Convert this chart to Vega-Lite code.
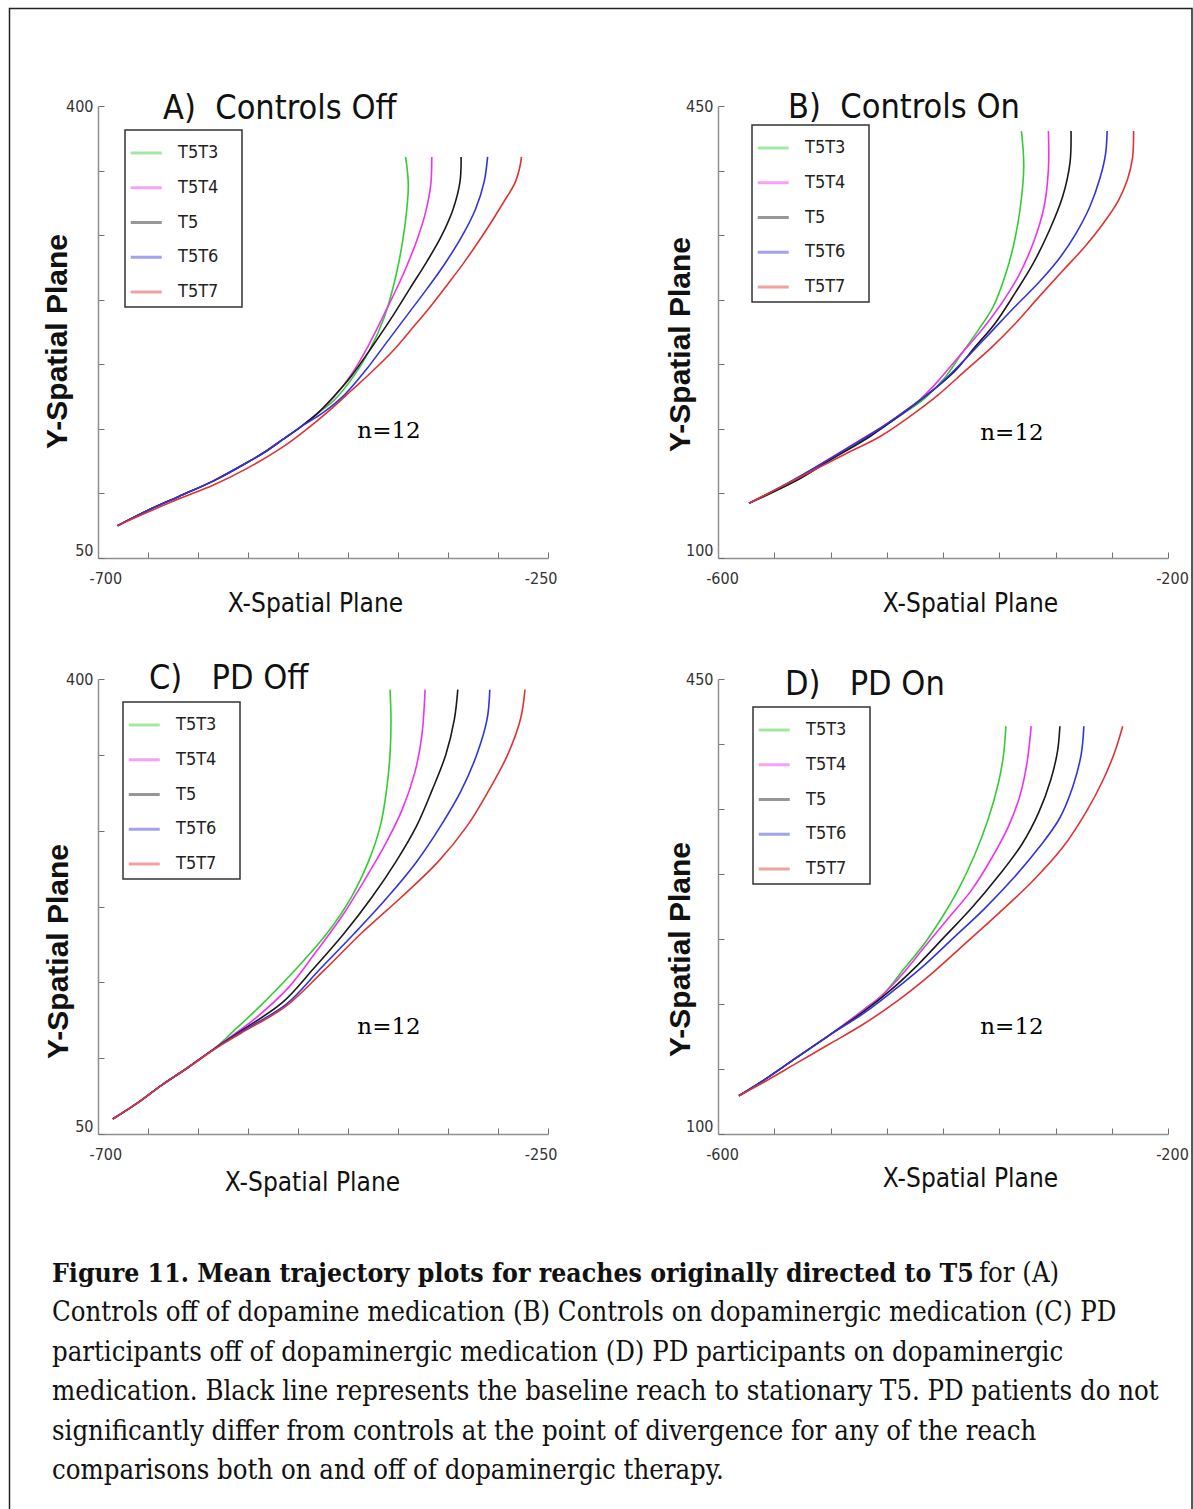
{
  "$schema": "https://vega.github.io/schema/vega-lite/v6.json",
  "usermeta": {"embedOptions": {"actions": false}},
  "background": "white",
  "padding": {"left": 8, "top": 7, "right": 0, "bottom": 0},
  "bounds": "flush",
  "columns": 2,
  "spacing": {"row": 121, "column": 170},
  "resolve": {
    "scale": {"x": "independent", "y": "independent", "color": "independent"},
    "axis": {"x": "independent", "y": "independent"},
    "legend": {"color": "independent"}
  },
  "datasets": {
    "A": [
      {"t":"T5T3","x":-680.4,"y":75},{"t":"T5T3","x":-653.5,"y":85.7},{"t":"T5T3","x":-619,"y":97.7},{"t":"T5T3","x":-584.5,"y":109.7},{"t":"T5T3","x":-550,"y":124.3},{"t":"T5T3","x":-532.8,"y":132.3},{"t":"T5T3","x":-515.5,"y":141.6},{"t":"T5T3","x":-498.3,"y":151},{"t":"T5T3","x":-481.1,"y":161.6},{"t":"T5T3","x":-463.8,"y":172.3},{"t":"T5T3","x":-446.6,"y":188.3},{"t":"T5T3","x":-429.3,"y":209.6},{"t":"T5T3","x":-413.8,"y":236.2},{"t":"T5T3","x":-401.8,"y":269.5},{"t":"T5T3","x":-393.2,"y":306.8},{"t":"T5T3","x":-389.7,"y":338.7},{"t":"T5T3","x":-392.4,"y":360.6},
      {"t":"T5T4","x":-680.4,"y":75},{"t":"T5T4","x":-653.5,"y":85.7},{"t":"T5T4","x":-619,"y":97.7},{"t":"T5T4","x":-584.5,"y":109.7},{"t":"T5T4","x":-550,"y":124.3},{"t":"T5T4","x":-532.8,"y":132.3},{"t":"T5T4","x":-515.5,"y":141.6},{"t":"T5T4","x":-498.3,"y":151},{"t":"T5T4","x":-481.1,"y":161.6},{"t":"T5T4","x":-463.8,"y":174.9},{"t":"T5T4","x":-446.6,"y":192.2},{"t":"T5T4","x":-429.3,"y":214.9},{"t":"T5T4","x":-412.1,"y":241.5},{"t":"T5T4","x":-394.9,"y":269.5},{"t":"T5T4","x":-381.1,"y":296.1},{"t":"T5T4","x":-372.5,"y":317.4},{"t":"T5T4","x":-367.3,"y":338.7},{"t":"T5T4","x":-366.2,"y":360.6},
      {"t":"T5","x":-680.4,"y":75},{"t":"T5","x":-653.5,"y":85.7},{"t":"T5","x":-619,"y":97.7},{"t":"T5","x":-584.5,"y":109.7},{"t":"T5","x":-550,"y":124.3},{"t":"T5","x":-532.8,"y":132.3},{"t":"T5","x":-515.5,"y":141.6},{"t":"T5","x":-498.3,"y":151},{"t":"T5","x":-481.1,"y":161.6},{"t":"T5","x":-463.8,"y":175.5},{"t":"T5","x":-446.6,"y":191},{"t":"T5","x":-425.9,"y":213.6},{"t":"T5","x":-405.2,"y":237.5},{"t":"T5","x":-388,"y":258.8},{"t":"T5","x":-370.7,"y":280.1},{"t":"T5","x":-356.9,"y":298.8},{"t":"T5","x":-344.9,"y":320.1},{"t":"T5","x":-338,"y":341.4},{"t":"T5","x":-336.9,"y":360.6},
      {"t":"T5T6","x":-680.4,"y":75},{"t":"T5T6","x":-653.5,"y":85.7},{"t":"T5T6","x":-619,"y":97.7},{"t":"T5T6","x":-584.5,"y":109.7},{"t":"T5T6","x":-550,"y":124.3},{"t":"T5T6","x":-532.8,"y":132.3},{"t":"T5T6","x":-515.5,"y":141.6},{"t":"T5T6","x":-498.3,"y":151},{"t":"T5T6","x":-474.2,"y":162.9},{"t":"T5T6","x":-453.5,"y":176.3},{"t":"T5T6","x":-432.8,"y":194.9},{"t":"T5T6","x":-412.1,"y":216.2},{"t":"T5T6","x":-391.4,"y":237.5},{"t":"T5T6","x":-370.7,"y":258.8},{"t":"T5T6","x":-353.5,"y":277.5},{"t":"T5T6","x":-336.3,"y":298.8},{"t":"T5T6","x":-322.5,"y":320.1},{"t":"T5T6","x":-313.8,"y":341.4},{"t":"T5T6","x":-310.4,"y":360.6},
      {"t":"T5T7","x":-680.4,"y":75},{"t":"T5T7","x":-653.5,"y":84.4},{"t":"T5T7","x":-619,"y":95.8},{"t":"T5T7","x":-584.5,"y":106.5},{"t":"T5T7","x":-550,"y":119.8},{"t":"T5T7","x":-515.5,"y":135.8},{"t":"T5T7","x":-488,"y":151.8},{"t":"T5T7","x":-467.3,"y":165.1},{"t":"T5T7","x":-446.6,"y":179.7},{"t":"T5T7","x":-425.9,"y":194.4},{"t":"T5T7","x":-405.2,"y":210.3},{"t":"T5T7","x":-384.5,"y":229},{"t":"T5T7","x":-367.3,"y":245},{"t":"T5T7","x":-350,"y":262.3},{"t":"T5T7","x":-332.8,"y":280.1},{"t":"T5T7","x":-312.1,"y":303.6},{"t":"T5T7","x":-294.9,"y":324.9},{"t":"T5T7","x":-282.8,"y":340.9},{"t":"T5T7","x":-277.6,"y":354.7},{"t":"T5T7","x":-276.6,"y":360.6}
    ],
    "B": [
      {"t":"T5T3","x":-572.4,"y":142.4},{"t":"T5T3","x":-530.9,"y":159.7},{"t":"T5T3","x":-500.9,"y":175.6},{"t":"T5T3","x":-470.9,"y":191.5},{"t":"T5T3","x":-440.8,"y":208.7},{"t":"T5T3","x":-416.8,"y":223.3},{"t":"T5T3","x":-398.8,"y":239.2},{"t":"T5T3","x":-383.8,"y":257.8},{"t":"T5T3","x":-368.8,"y":276.3},{"t":"T5T3","x":-355.2,"y":294.9},{"t":"T5T3","x":-344.7,"y":318.7},{"t":"T5T3","x":-337.2,"y":342.6},{"t":"T5T3","x":-331.2,"y":371.8},{"t":"T5T3","x":-328.2,"y":403.6},{"t":"T5T3","x":-330.3,"y":430.6},
      {"t":"T5T4","x":-572.4,"y":142.4},{"t":"T5T4","x":-530.9,"y":161},{"t":"T5T4","x":-500.9,"y":176.9},{"t":"T5T4","x":-470.9,"y":192.8},{"t":"T5T4","x":-440.8,"y":208.7},{"t":"T5T4","x":-422.8,"y":220.7},{"t":"T5T4","x":-404.8,"y":236.6},{"t":"T5T4","x":-386.8,"y":255.1},{"t":"T5T4","x":-365.8,"y":276.3},{"t":"T5T4","x":-347.7,"y":297.5},{"t":"T5T4","x":-332.7,"y":318.7},{"t":"T5T4","x":-319.2,"y":345.3},{"t":"T5T4","x":-310.2,"y":371.8},{"t":"T5T4","x":-306.3,"y":400.9},{"t":"T5T4","x":-306.3,"y":430.6},
      {"t":"T5","x":-572.4,"y":142.4},{"t":"T5","x":-530.9,"y":159.7},{"t":"T5","x":-500.9,"y":175.6},{"t":"T5","x":-464.9,"y":194.1},{"t":"T5","x":-434.8,"y":212.7},{"t":"T5","x":-410.8,"y":228.6},{"t":"T5","x":-389.8,"y":244.5},{"t":"T5","x":-371.8,"y":263.1},{"t":"T5","x":-353.8,"y":281.6},{"t":"T5","x":-335.7,"y":305.5},{"t":"T5","x":-320.7,"y":326.7},{"t":"T5","x":-305.7,"y":353.2},{"t":"T5","x":-293.7,"y":379.7},{"t":"T5","x":-287.1,"y":406.2},{"t":"T5","x":-286.2,"y":430.6},
      {"t":"T5T6","x":-572.4,"y":142.4},{"t":"T5T6","x":-545.9,"y":154.3},{"t":"T5T6","x":-515.9,"y":169},{"t":"T5T6","x":-485.9,"y":184.5},{"t":"T5T6","x":-455.9,"y":200.5},{"t":"T5T6","x":-428.8,"y":217},{"t":"T5T6","x":-404.8,"y":233},{"t":"T5T6","x":-380.8,"y":253.5},{"t":"T5T6","x":-356.8,"y":275.5},{"t":"T5T6","x":-335.7,"y":294.9},{"t":"T5T6","x":-314.7,"y":313.5},{"t":"T5T6","x":-297,"y":331.5},{"t":"T5T6","x":-282,"y":351},{"t":"T5T6","x":-269.5,"y":372},{"t":"T5T6","x":-260.5,"y":394},{"t":"T5T6","x":-255.5,"y":413},{"t":"T5T6","x":-254.1,"y":430.6},
      {"t":"T5T7","x":-572.4,"y":142.4},{"t":"T5T7","x":-545.9,"y":154.3},{"t":"T5T7","x":-515.9,"y":167.6},{"t":"T5T7","x":-485.9,"y":180.9},{"t":"T5T7","x":-455.9,"y":194.1},{"t":"T5T7","x":-428.8,"y":210},{"t":"T5T7","x":-404.8,"y":225.9},{"t":"T5T7","x":-380.8,"y":244.5},{"t":"T5T7","x":-356.8,"y":263.1},{"t":"T5T7","x":-335.7,"y":281.6},{"t":"T5T7","x":-314.7,"y":302.2},{"t":"T5T7","x":-294,"y":322},{"t":"T5T7","x":-274,"y":341},{"t":"T5T7","x":-257.6,"y":359},{"t":"T5T7","x":-244,"y":377},{"t":"T5T7","x":-236,"y":393},{"t":"T5T7","x":-231.5,"y":410},{"t":"T5T7","x":-230.6,"y":430.6}
    ],
    "C": [
      {"t":"T5T3","x":-685.2,"y":61.5},{"t":"T5T3","x":-660.4,"y":73.9},{"t":"T5T3","x":-636.3,"y":87.6},{"t":"T5T3","x":-612.2,"y":100},{"t":"T5T3","x":-584.6,"y":115.1},{"t":"T5T3","x":-564,"y":129.5},{"t":"T5T3","x":-536.4,"y":149.5},{"t":"T5T3","x":-502,"y":176.9},{"t":"T5T3","x":-471,"y":204.4},{"t":"T5T3","x":-446.9,"y":231.9},{"t":"T5T3","x":-429.7,"y":259.3},{"t":"T5T3","x":-417.7,"y":286.8},{"t":"T5T3","x":-411.5,"y":314.3},{"t":"T5T3","x":-408,"y":341.8},{"t":"T5T3","x":-407,"y":369.2},{"t":"T5T3","x":-408,"y":391.8},
      {"t":"T5T4","x":-685.2,"y":61.5},{"t":"T5T4","x":-660.4,"y":73.9},{"t":"T5T4","x":-636.3,"y":87.6},{"t":"T5T4","x":-612.2,"y":100},{"t":"T5T4","x":-584.6,"y":115.1},{"t":"T5T4","x":-560.6,"y":128.5},{"t":"T5T4","x":-543.3,"y":138.5},{"t":"T5T4","x":-508.9,"y":163.2},{"t":"T5T4","x":-481.4,"y":190.7},{"t":"T5T4","x":-455.5,"y":218.1},{"t":"T5T4","x":-433.2,"y":245.6},{"t":"T5T4","x":-412.5,"y":273.1},{"t":"T5T4","x":-395.3,"y":300.5},{"t":"T5T4","x":-383.2,"y":328},{"t":"T5T4","x":-376.3,"y":355.5},{"t":"T5T4","x":-372.9,"y":391.8},
      {"t":"T5","x":-685.2,"y":61.5},{"t":"T5","x":-660.4,"y":73.9},{"t":"T5","x":-636.3,"y":87.6},{"t":"T5","x":-612.2,"y":100},{"t":"T5","x":-584.6,"y":115.1},{"t":"T5","x":-557.1,"y":129.3},{"t":"T5","x":-515.8,"y":151},{"t":"T5","x":-484.8,"y":176.9},{"t":"T5","x":-453.8,"y":204.4},{"t":"T5","x":-426.3,"y":231.9},{"t":"T5","x":-402.2,"y":259.3},{"t":"T5","x":-381.5,"y":286.8},{"t":"T5","x":-366,"y":314.3},{"t":"T5","x":-352.2,"y":341.8},{"t":"T5","x":-343.6,"y":369.2},{"t":"T5","x":-340.2,"y":391.8},
      {"t":"T5T6","x":-685.2,"y":61.5},{"t":"T5T6","x":-660.4,"y":73.9},{"t":"T5T6","x":-636.3,"y":87.6},{"t":"T5T6","x":-612.2,"y":100},{"t":"T5T6","x":-584.6,"y":115.1},{"t":"T5T6","x":-557.1,"y":128.5},{"t":"T5T6","x":-512.3,"y":149.5},{"t":"T5T6","x":-477.9,"y":176.9},{"t":"T5T6","x":-443.5,"y":204.4},{"t":"T5T6","x":-410.8,"y":231.9},{"t":"T5T6","x":-381.5,"y":259.3},{"t":"T5T6","x":-357.4,"y":286.8},{"t":"T5T6","x":-336.7,"y":314.3},{"t":"T5T6","x":-321.3,"y":341.8},{"t":"T5T6","x":-310.9,"y":369.2},{"t":"T5T6","x":-308.2,"y":391.8},
      {"t":"T5T7","x":-685.2,"y":61.5},{"t":"T5T7","x":-660.4,"y":73.9},{"t":"T5T7","x":-636.3,"y":87.6},{"t":"T5T7","x":-612.2,"y":100},{"t":"T5T7","x":-584.6,"y":114.6},{"t":"T5T7","x":-557.1,"y":127.5},{"t":"T5T7","x":-512.3,"y":148.1},{"t":"T5T7","x":-474.5,"y":175.5},{"t":"T5T7","x":-436.6,"y":204.4},{"t":"T5T7","x":-397,"y":231.9},{"t":"T5T7","x":-360,"y":259.3},{"t":"T5T7","x":-331,"y":286.8},{"t":"T5T7","x":-309.2,"y":314.3},{"t":"T5T7","x":-290.3,"y":341.8},{"t":"T5T7","x":-277.5,"y":369.2},{"t":"T5T7","x":-273,"y":391.8}
    ],
    "D": [
      {"t":"T5T3","x":-581.4,"y":129.4},{"t":"T5T3","x":-561,"y":140.4},{"t":"T5T3","x":-530.9,"y":158.3},{"t":"T5T3","x":-500.9,"y":176.1},{"t":"T5T3","x":-470.9,"y":195.3},{"t":"T5T3","x":-452.9,"y":207.7},{"t":"T5T3","x":-434.8,"y":226.9},{"t":"T5T3","x":-416.8,"y":246.1},{"t":"T5T3","x":-401.8,"y":265.4},{"t":"T5T3","x":-386.8,"y":287.4},{"t":"T5T3","x":-371.8,"y":314.8},{"t":"T5T3","x":-359.8,"y":342.3},{"t":"T5T3","x":-350.8,"y":369.8},{"t":"T5T3","x":-346.2,"y":391.8},{"t":"T5T3","x":-344.1,"y":413.7},
      {"t":"T5T4","x":-581.4,"y":129.4},{"t":"T5T4","x":-561,"y":140.4},{"t":"T5T4","x":-530.9,"y":158.3},{"t":"T5T4","x":-500.9,"y":176.1},{"t":"T5T4","x":-470.9,"y":195.3},{"t":"T5T4","x":-452.9,"y":207.7},{"t":"T5T4","x":-434.8,"y":224.2},{"t":"T5T4","x":-416.8,"y":243.4},{"t":"T5T4","x":-395.8,"y":265.4},{"t":"T5T4","x":-374.8,"y":287.4},{"t":"T5T4","x":-356.8,"y":312.1},{"t":"T5T4","x":-341.7,"y":336.8},{"t":"T5T4","x":-331.2,"y":361.5},{"t":"T5T4","x":-325.2,"y":386.3},{"t":"T5T4","x":-321.6,"y":413.7},
      {"t":"T5","x":-581.4,"y":129.4},{"t":"T5","x":-561,"y":140.4},{"t":"T5","x":-530.9,"y":158.3},{"t":"T5","x":-500.9,"y":176.1},{"t":"T5","x":-470.9,"y":193.9},{"t":"T5","x":-446.8,"y":210.4},{"t":"T5","x":-422.8,"y":229.7},{"t":"T5","x":-398.8,"y":251.6},{"t":"T5","x":-374.8,"y":273.6},{"t":"T5","x":-350.8,"y":298.4},{"t":"T5","x":-329.7,"y":323.1},{"t":"T5","x":-314.7,"y":347.8},{"t":"T5","x":-304.2,"y":372.5},{"t":"T5","x":-298.2,"y":394.5},{"t":"T5","x":-296.1,"y":413.7},
      {"t":"T5T6","x":-581.4,"y":129.4},{"t":"T5T6","x":-561,"y":140.4},{"t":"T5T6","x":-530.9,"y":158.3},{"t":"T5T6","x":-500.9,"y":176.1},{"t":"T5T6","x":-470.9,"y":192.6},{"t":"T5T6","x":-443.8,"y":210.4},{"t":"T5T6","x":-416.8,"y":229.7},{"t":"T5T6","x":-389.8,"y":251.6},{"t":"T5T6","x":-362.8,"y":273.6},{"t":"T5T6","x":-335.7,"y":298.4},{"t":"T5T6","x":-314.7,"y":320.3},{"t":"T5T6","x":-296.7,"y":342.3},{"t":"T5T6","x":-284.7,"y":367},{"t":"T5T6","x":-277.2,"y":391.8},{"t":"T5T6","x":-274.8,"y":413.7},
      {"t":"T5T7","x":-581.4,"y":129.4},{"t":"T5T7","x":-561,"y":139},{"t":"T5T7","x":-530.9,"y":154.1},{"t":"T5T7","x":-500.9,"y":169.2},{"t":"T5T7","x":-470.9,"y":184.4},{"t":"T5T7","x":-440.8,"y":202.2},{"t":"T5T7","x":-410.8,"y":222.8},{"t":"T5T7","x":-380.8,"y":246.1},{"t":"T5T7","x":-350.8,"y":269.5},{"t":"T5T7","x":-320.7,"y":294.2},{"t":"T5T7","x":-293.7,"y":320.3},{"t":"T5T7","x":-272.7,"y":347.8},{"t":"T5T7","x":-257.6,"y":372.5},{"t":"T5T7","x":-247.1,"y":394.5},{"t":"T5T7","x":-240.3,"y":413.7}
    ]
  },
  "concat": [
    {
      "width": 450, "height": 452,
      "title": {"text": "A)\u00a0\u00a0Controls Off", "anchor": "start", "frame": "group", "dx": 65, "dy": 55, "offset": 0, "baseline": "alphabetic", "font": "DejaVu Sans Condensed, sans-serif", "fontSize": 34, "fontWeight": "normal", "color": "#111111"},
      "layer": [
        {
          "data": {"name": "A"},
          "mark": {"type": "line", "interpolate": "catmull-rom", "strokeWidth": 1.6},
          "encoding": {
            "x": {"field": "x", "type": "quantitative", "scale": {"domain": [-700, -250], "nice": false, "zero": false},
                  "axis": {"values": [-700,-650,-600,-550,-500,-450,-400,-350,-300,-250], "labelExpr": "datum.value == -700 ? '-700' : datum.value == -250 ? '-250' : ''", "labelFlush": true, "labelFlushOffset": 9, "labelPadding": 18, "title": "X-Spatial Plane", "titleFont": "DejaVu Sans Condensed, sans-serif", "titleFontSize": 26, "titleFontWeight": "normal", "titleX": 217, "titleY": 45, "titleBaseline": "middle"}},
            "y": {"field": "y", "type": "quantitative", "scale": {"domain": [50, 400], "nice": false, "zero": false},
                  "axis": {"values": [50,100,150,200,250,300,350,400], "labelExpr": "datum.value == 400 ? '400' : datum.value == 50 ? '50' : ''", "labelBaseline": {"condition": {"test": "datum.value == 50", "value": "bottom"}, "value": "middle"}, "labelPadding": 11, "title": "Y-Spatial Plane", "titleFont": "Liberation Sans", "titleFontSize": 30, "titleFontWeight": "bold", "titleX": -41, "titleY": 235, "titleBaseline": "middle"}},
            "color": {"field": "t", "type": "nominal", "scale": {"domain": ["T5T3","T5T4","T5","T5T6","T5T7"], "range": ["#33cc33","#ee33ee","#1a1a1a","#3333dd","#dd3333"]}, "legend": {"legendX": 27, "legendY": 24, "labelExpr": "datum.label + '\u00a0\u2800'"}},
            "order": {"field": "y", "type": "quantitative"}
          }
        },
        {
          "data": {"values": [{"x": -409, "y": 148, "label": "n=12"}]},
          "mark": {"type": "text", "font": "DejaVu Serif", "fontSize": 23, "color": "#000000", "baseline": "middle", "align": "center"},
          "encoding": {"x": {"field": "x", "type": "quantitative"}, "y": {"field": "y", "type": "quantitative"}, "text": {"field": "label"}}
        }
      ]
    },
    {
      "width": 450, "height": 452,
      "title": {"text": "B)\u00a0\u00a0Controls On", "anchor": "start", "frame": "group", "dx": 70, "dy": 54, "offset": 0, "baseline": "alphabetic", "font": "DejaVu Sans Condensed, sans-serif", "fontSize": 34, "fontWeight": "normal", "color": "#111111"},
      "layer": [
        {
          "data": {"name": "B"},
          "mark": {"type": "line", "interpolate": "catmull-rom", "strokeWidth": 1.6},
          "encoding": {
            "x": {"field": "x", "type": "quantitative", "scale": {"domain": [-600, -200], "nice": false, "zero": false},
                  "axis": {"values": [-600,-550,-500,-450,-400,-350,-300,-250,-200], "labelExpr": "datum.value == -600 ? '-600' : datum.value == -200 ? '-200' : ''", "labelFlush": false, "labelOffset": 4, "labelPadding": 18, "title": "X-Spatial Plane", "titleFont": "DejaVu Sans Condensed, sans-serif", "titleFontSize": 26, "titleFontWeight": "normal", "titleX": 252, "titleY": 45, "titleBaseline": "middle"}},
            "y": {"field": "y", "type": "quantitative", "scale": {"domain": [100, 450], "nice": false, "zero": false},
                  "axis": {"values": [100,150,200,250,300,350,400,450], "labelExpr": "datum.value == 450 ? '450' : datum.value == 100 ? '100' : ''", "labelBaseline": {"condition": {"test": "datum.value == 100", "value": "bottom"}, "value": "middle"}, "labelPadding": 11, "title": "Y-Spatial Plane", "titleFont": "Liberation Sans", "titleFontSize": 30, "titleFontWeight": "bold", "titleX": -38, "titleY": 238, "titleBaseline": "middle"}},
            "color": {"field": "t", "type": "nominal", "scale": {"domain": ["T5T3","T5T4","T5","T5T6","T5T7"], "range": ["#33cc33","#ee33ee","#1a1a1a","#3333dd","#dd3333"]}, "legend": {"legendX": 34, "legendY": 19, "labelExpr": "datum.label + '\u00a0\u2800'"}},
            "order": {"field": "y", "type": "quantitative"}
          }
        },
        {
          "data": {"values": [{"x": -338.7, "y": 197, "label": "n=12"}]},
          "mark": {"type": "text", "font": "DejaVu Serif", "fontSize": 23, "color": "#000000", "baseline": "middle", "align": "center"},
          "encoding": {"x": {"field": "x", "type": "quantitative"}, "y": {"field": "y", "type": "quantitative"}, "text": {"field": "label"}}
        }
      ]
    },
    {
      "width": 450, "height": 455,
      "title": {"text": "C)\u00a0\u00a0\u00a0PD Off", "anchor": "start", "frame": "group", "dx": 51, "dy": 52, "offset": 0, "baseline": "alphabetic", "font": "DejaVu Sans Condensed, sans-serif", "fontSize": 34, "fontWeight": "normal", "color": "#111111"},
      "layer": [
        {
          "data": {"name": "C"},
          "mark": {"type": "line", "interpolate": "catmull-rom", "strokeWidth": 1.6},
          "encoding": {
            "x": {"field": "x", "type": "quantitative", "scale": {"domain": [-700, -250], "nice": false, "zero": false},
                  "axis": {"values": [-700,-650,-600,-550,-500,-450,-400,-350,-300,-250], "labelExpr": "datum.value == -700 ? '-700' : datum.value == -250 ? '-250' : ''", "labelFlush": true, "labelFlushOffset": 9, "labelPadding": 18, "title": "X-Spatial Plane", "titleFont": "DejaVu Sans Condensed, sans-serif", "titleFontSize": 26, "titleFontWeight": "normal", "titleX": 214, "titleY": 48, "titleBaseline": "middle"}},
            "y": {"field": "y", "type": "quantitative", "scale": {"domain": [50, 400], "nice": false, "zero": false},
                  "axis": {"values": [50,108.33,166.67,225,283.33,341.67,400], "labelExpr": "datum.value == 400 ? '400' : datum.value == 50 ? '50' : ''", "labelBaseline": {"condition": {"test": "datum.value == 50", "value": "bottom"}, "value": "middle"}, "labelPadding": 11, "title": "Y-Spatial Plane", "titleFont": "Liberation Sans", "titleFontSize": 30, "titleFontWeight": "bold", "titleX": -40, "titleY": 272, "titleBaseline": "middle"}},
            "color": {"field": "t", "type": "nominal", "scale": {"domain": ["T5T3","T5T4","T5","T5T6","T5T7"], "range": ["#33cc33","#ee33ee","#1a1a1a","#3333dd","#dd3333"]}, "legend": {"legendX": 25, "legendY": 23, "labelExpr": "datum.label + '\u00a0\u2800'"}},
            "order": {"field": "y", "type": "quantitative"}
          }
        },
        {
          "data": {"values": [{"x": -409, "y": 132.5, "label": "n=12"}]},
          "mark": {"type": "text", "font": "DejaVu Serif", "fontSize": 23, "color": "#000000", "baseline": "middle", "align": "center"},
          "encoding": {"x": {"field": "x", "type": "quantitative"}, "y": {"field": "y", "type": "quantitative"}, "text": {"field": "label"}}
        }
      ]
    },
    {
      "width": 450, "height": 455,
      "title": {"text": "D)\u00a0\u00a0\u00a0PD On", "anchor": "start", "frame": "group", "dx": 67, "dy": 58, "offset": 0, "baseline": "alphabetic", "font": "DejaVu Sans Condensed, sans-serif", "fontSize": 34, "fontWeight": "normal", "color": "#111111"},
      "layer": [
        {
          "data": {"name": "D"},
          "mark": {"type": "line", "interpolate": "catmull-rom", "strokeWidth": 1.6},
          "encoding": {
            "x": {"field": "x", "type": "quantitative", "scale": {"domain": [-600, -200], "nice": false, "zero": false},
                  "axis": {"values": [-600,-550,-500,-450,-400,-350,-300,-250,-200], "labelExpr": "datum.value == -600 ? '-600' : datum.value == -200 ? '-200' : ''", "labelFlush": false, "labelOffset": 4, "labelPadding": 18, "title": "X-Spatial Plane", "titleFont": "DejaVu Sans Condensed, sans-serif", "titleFontSize": 26, "titleFontWeight": "normal", "titleX": 252, "titleY": 44, "titleBaseline": "middle"}},
            "y": {"field": "y", "type": "quantitative", "scale": {"domain": [100, 450], "nice": false, "zero": false},
                  "axis": {"values": [100,150,200,250,300,350,400,450], "labelExpr": "datum.value == 450 ? '450' : datum.value == 100 ? '100' : ''", "labelBaseline": {"condition": {"test": "datum.value == 100", "value": "bottom"}, "value": "middle"}, "labelPadding": 11, "title": "Y-Spatial Plane", "titleFont": "Liberation Sans", "titleFontSize": 30, "titleFontWeight": "bold", "titleX": -38, "titleY": 270, "titleBaseline": "middle"}},
            "color": {"field": "t", "type": "nominal", "scale": {"domain": ["T5T3","T5T4","T5","T5T6","T5T7"], "range": ["#33cc33","#ee33ee","#1a1a1a","#3333dd","#dd3333"]}, "legend": {"legendX": 35, "legendY": 28, "labelExpr": "datum.label + '\u00a0\u2800'"}},
            "order": {"field": "y", "type": "quantitative"}
          }
        },
        {
          "data": {"values": [{"x": -338.7, "y": 182.5, "label": "n=12"}]},
          "mark": {"type": "text", "font": "DejaVu Serif", "fontSize": 23, "color": "#000000", "baseline": "middle", "align": "center"},
          "encoding": {"x": {"field": "x", "type": "quantitative"}, "y": {"field": "y", "type": "quantitative"}, "text": {"field": "label"}}
        }
      ]
    },
    {
      "width": 450, "height": 197,
      "layer": [
        {
          "data": {"values": [{}]},
          "mark": {"type": "rect", "filled": false, "stroke": "#222222", "strokeWidth": 1.5},
          "encoding": {"x": {"value": -88.5}, "x2": {"value": 1094}, "y": {"value": -1246.5}, "y2": {"value": 262}}
        },
        {
          "data": {"values": [{"line": 0, "text": "Figure 11. Mean trajectory plots for reaches originally directed to T5"}]},
          "mark": {"type": "text", "align": "left", "baseline": "alphabetic", "dy": 27, "font": "DejaVu Serif Condensed, Liberation Serif, serif", "fontSize": 26.4, "fontWeight": "bold", "color": "#111111"},
          "encoding": {"x": {"value": -46}, "y": {"field": "line", "type": "ordinal", "scale": {"type": "point", "padding": 0}, "axis": null}, "text": {"field": "text"}}
        },
        {
          "data": {"values": [{"line": 0, "text": "for (A)"}]},
          "mark": {"type": "text", "align": "left", "baseline": "alphabetic", "dy": 27, "font": "DejaVu Serif Condensed, Liberation Serif, serif", "fontSize": 27.25, "color": "#111111"},
          "encoding": {"x": {"value": 881}, "y": {"field": "line", "type": "ordinal", "scale": {"type": "point", "padding": 0}, "axis": null}, "text": {"field": "text"}}
        },
        {
          "data": {"values": [
            {"line": 1, "text": "Controls off of dopamine medication (B) Controls on dopaminergic medication (C) PD"},
            {"line": 2, "text": "participants off of dopaminergic medication (D) PD participants on dopaminergic"},
            {"line": 3, "text": "medication. Black line represents the baseline reach to stationary T5. PD patients do not"},
            {"line": 4, "text": "significantly differ from controls at the point of divergence for any of the reach"},
            {"line": 5, "text": "comparisons both on and off of dopaminergic therapy."}
          ]},
          "mark": {"type": "text", "align": "left", "baseline": "alphabetic", "dy": 27, "font": "DejaVu Serif Condensed, Liberation Serif, serif", "fontSize": 27.25, "color": "#111111"},
          "encoding": {"x": {"value": -46}, "y": {"field": "line", "type": "ordinal", "scale": {"type": "point", "padding": 0}, "axis": null}, "text": {"field": "text"}}
        }
      ]
    }
  ],
  "config": {
    "view": {"stroke": null},
    "axis": {"grid": false, "domainColor": "#909090", "domainWidth": 1.5, "tickColor": "#707070", "tickWidth": 1, "tickSize": -6, "labelFont": "DejaVu Sans Condensed, sans-serif", "labelFontSize": 16, "labelColor": "#333333", "labelOverlap": false, "titleColor": "#111111"},
    "legend": {"orient": "none", "title": null, "symbolType": "stroke", "symbolSize": 961, "symbolStrokeWidth": 3, "symbolOpacity": 0.45, "labelFont": "DejaVu Sans Condensed, sans-serif", "labelFontSize": 18, "labelColor": "#222222", "labelOffset": 14.75, "symbolOffset": -1.75, "padding": 6, "rowPadding": 8.75, "strokeColor": "#333333", "strokeWidth": 1.5, "fillColor": "white"}
  }
}
